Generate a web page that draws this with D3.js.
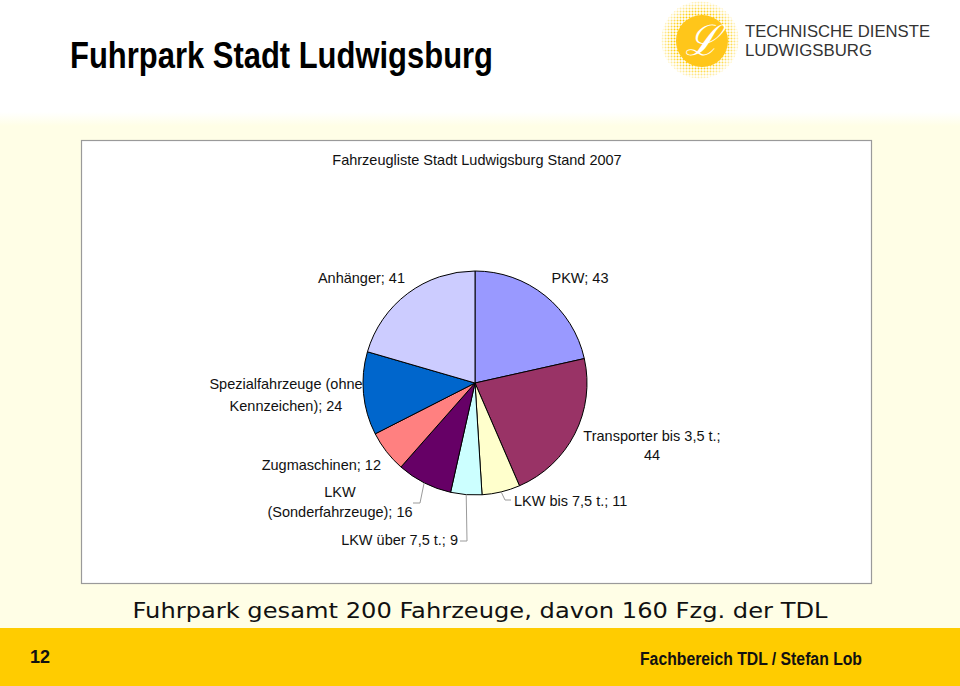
<!DOCTYPE html>
<html><head><meta charset="utf-8">
<script src="https://cdn.jsdelivr.net/npm/d3@7"></script>
<style>body{margin:0;background:#fff}svg{display:block}</style>
</head><body><svg id="c" width="960" height="686"></svg>
<script>
// ---- data ----
const categories = ["PKW","Transporter bis 3,5 t.","LKW bis 7,5 t.","LKW über 7,5 t.","LKW (Sonderfahrzeuge)","Zugmaschinen","Spezialfahrzeuge (ohne Kennzeichen)","Anhänger"];
const values = [43,44,11,9,16,12,24,41];
const labelLines = [["PKW; 43"],["Transporter bis 3,5 t.;","44"],["LKW bis 7,5 t.; 11"],["LKW über 7,5 t.; 9"],["LKW","(Sonderfahrzeuge); 16"],["Zugmaschinen; 12"],["Spezialfahrzeuge (ohne","Kennzeichen); 24"],["Anhänger; 41"]];
const chartTitle = "Fahrzeugliste Stadt Ludwigsburg Stand 2007";
const slideTitle = "Fuhrpark Stadt Ludwigsburg";
const summary = "Fuhrpark gesamt 200 Fahrzeuge, davon 160 Fzg. der TDL";
const footerLeft = "12";
const footerRight = "Fachbereich TDL / Stefan Lob";
const logoLines = ["TECHNISCHE DIENSTE","LUDWIGSBURG"];

// ---- styles / layout ----
const colors = ["#9999FF","#993366","#FFFFCC","#CCFFFF","#660066","#FF8080","#0066CC","#CCCCFF"];
const cx = 475, cy = 383, R = 112;
const labelPos = [
  {dx:105, dy:-100, a:"middle", lh:20},
  {dx:177, dy:58, a:"middle", lh:19},
  {dx:39, dy:123, a:"start", lh:20},
  {dx:-17, dy:162, a:"end", lh:20},
  {dx:-135, dy:114, a:"middle", lh:20},
  {dx:-94, dy:87, a:"end", lh:20},
  {dx:-189, dy:6, a:"middle", lh:22},
  {dx:-70, dy:-100, a:"end", lh:20}
];
const leaders = {2:[[30,117],[36,117]], 3:[[-8,158],[-15,158]], 4:[[-55,120],[-62,120]]};
const labelFont = "'Liberation Sans',Arial,sans-serif";

const svg = d3.select("#c");
const defs = svg.append("defs");
const g1 = defs.append("linearGradient").attr("id","bgfade").attr("x1",0).attr("y1",0).attr("x2",0).attr("y2",1);
g1.append("stop").attr("offset","0").attr("stop-color","#FFFFFF");
g1.append("stop").attr("offset","1").attr("stop-color","#FFFEE6");

// background panel
svg.append("rect").attr("x",0).attr("y",112).attr("width",960).attr("height",14).attr("fill","url(#bgfade)");
svg.append("rect").attr("x",0).attr("y",126).attr("width",960).attr("height",502).attr("fill","#FFFEE6");
// chart area
svg.append("rect").attr("x",81.5).attr("y",140.5).attr("width",790).attr("height",443)
  .attr("fill","#fff").attr("stroke","#9a9a9a").attr("stroke-width",1.2);
// footer bar
svg.append("rect").attr("x",0).attr("y",628).attr("width",960).attr("height",58).attr("fill","#FFCC00");

// slide title
svg.append("text").attr("x",70).attr("y",68).text(slideTitle)
  .attr("font-family","'Liberation Sans Narrow','Arial Narrow',sans-serif").attr("font-weight","bold")
  .attr("font-size",36).attr("fill","#000").attr("textLength",423).attr("lengthAdjust","spacingAndGlyphs");

// logo
const logo = svg.append("g").attr("transform","translate(700,40)");
const pat = defs.append("pattern").attr("id","dots").attr("width",3).attr("height",3).attr("patternUnits","userSpaceOnUse");
pat.append("circle").attr("cx",1.5).attr("cy",1.5).attr("r",1).attr("fill","#FFCC00");
const rg = defs.append("radialGradient").attr("id","halo");
rg.append("stop").attr("offset","0.7").attr("stop-color","#fff").attr("stop-opacity",1);
rg.append("stop").attr("offset","1").attr("stop-color","#fff").attr("stop-opacity",0.2);
const mask = defs.append("mask").attr("id","halomask");
mask.append("circle").attr("r",39).attr("fill","url(#halo)");
logo.append("circle").attr("r",39).attr("fill","url(#dots)").attr("mask","url(#halomask)");
logo.append("circle").attr("cx",2).attr("cy",1).attr("r",26).attr("fill","#FFC61A");
logo.append("text").attr("x",2).attr("y",15).attr("text-anchor","middle").text("ℒ")
  .attr("font-family","'DejaVu Serif',serif").attr("font-style","italic").attr("font-size",42).attr("fill","#fff");
logo.selectAll("text.ll").data(logoLines).enter().append("text").attr("class","ll")
  .attr("x",45).attr("y",(d,i)=> -3 + i*19).text(d=>d)
  .attr("font-family","'Liberation Sans',sans-serif").attr("font-size",17).attr("fill","#333")
  .attr("textLength",(d,i)=> i===0?185:127).attr("lengthAdjust","spacingAndGlyphs");

// chart title
svg.append("text").attr("x",477).attr("y",165).attr("text-anchor","middle").text(chartTitle)
  .attr("font-family",labelFont).attr("font-size",14.5).attr("fill","#111");

// pie
const pie = d3.pie().sort(null).value(d=>d)(values);
const arc = d3.arc().innerRadius(0).outerRadius(R);
const pg = svg.append("g").attr("transform",`translate(${cx},${cy})`);
pg.selectAll("path").data(pie).enter().append("path")
  .attr("d",arc).attr("fill",(d,i)=>colors[i]).attr("stroke","#000").attr("stroke-width",1);

// leaders
Object.keys(leaders).forEach(k=>{
  const d = pie[+k];
  const a = (d.startAngle+d.endAngle)/2;
  const p0 = [R*Math.sin(a), -R*Math.cos(a)];
  const pts = [p0].concat(leaders[k]);
  pg.append("path").attr("d",d3.line()(pts)).attr("fill","none").attr("stroke","#9a9a9a").attr("stroke-width",1);
});

// labels
labelLines.forEach((lines,i)=>{
  const p = labelPos[i];
  const t = pg.append("text").attr("text-anchor",p.a)
    .attr("font-family",labelFont).attr("font-size",14.5).attr("fill","#111");
  lines.forEach((ln,j)=>{
    t.append("tspan").attr("x",p.dx).attr("y",p.dy + j*p.lh).text(ln);
  });
});

// summary
svg.append("text").attr("x",480).attr("y",618).attr("text-anchor","middle").text(summary)
  .attr("font-family","'DejaVu Sans',Verdana,sans-serif").attr("font-size",22).attr("fill","#111")
  .attr("textLength",695).attr("lengthAdjust","spacingAndGlyphs");

// footer
svg.append("text").attr("x",30).attr("y",663).text(footerLeft)
  .attr("font-family","'Liberation Sans Narrow','Arial Narrow',sans-serif").attr("font-weight","bold").attr("font-size",18).attr("fill","#111");
svg.append("text").attr("x",640).attr("y",665).text(footerRight)
  .attr("font-family","'Liberation Sans Narrow','Arial Narrow',sans-serif").attr("font-weight","bold").attr("font-size",18).attr("fill","#111")
  .attr("textLength",222).attr("lengthAdjust","spacingAndGlyphs");
</script></body></html>
